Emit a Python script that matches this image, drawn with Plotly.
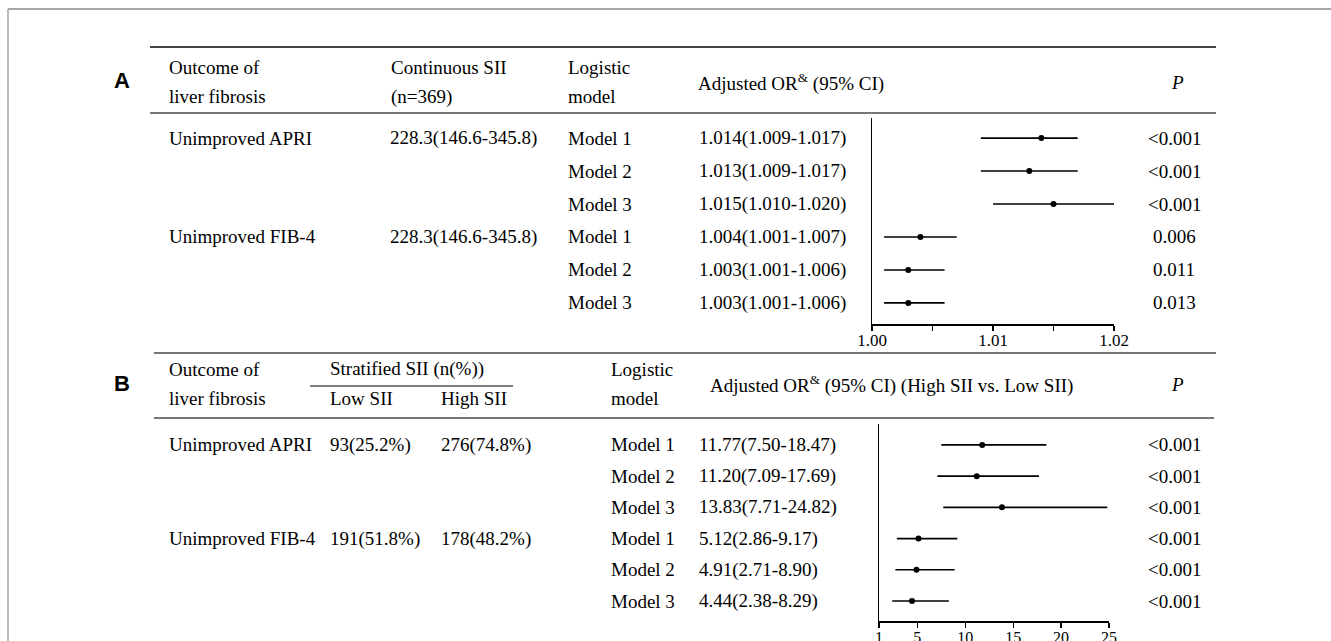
import plotly.graph_objects as go

W, H = 1331, 641

# ---------------- data ----------------
outcomes = ["Unimproved APRI", "Unimproved FIB-4"]
models = ["Model 1", "Model 2", "Model 3"]

a_continuous = ["228.3(146.6-345.8)", "228.3(146.6-345.8)"]
a_or = [1.014, 1.013, 1.015, 1.004, 1.003, 1.003]
a_lo = [1.009, 1.009, 1.010, 1.001, 1.001, 1.001]
a_hi = [1.017, 1.017, 1.020, 1.007, 1.006, 1.006]
a_p = ["<0.001", "<0.001", "<0.001", "0.006", "0.011", "0.013"]
a_ticks = [1.00, 1.01, 1.02]
a_ticktext = ["1.00", "1.01", "1.02"]
a_minor = [1.005, 1.015]

b_low = ["93(25.2%)", "191(51.8%)"]
b_high = ["276(74.8%)", "178(48.2%)"]
b_or = [11.77, 11.20, 13.83, 5.12, 4.91, 4.44]
b_lo = [7.50, 7.09, 7.71, 2.86, 2.71, 2.38]
b_hi = [18.47, 17.69, 24.82, 9.17, 8.90, 8.29]
b_p = ["<0.001"] * 6
b_ticks = [1, 5, 10, 15, 20, 25]

rows = list(range(6))

SERIF = "Liberation Serif"
FS = 19


def px(x):
    return x / W


def py(y):
    return 1 - y / H


fig = go.Figure()

fig.add_trace(go.Scatter(
    x=a_or, y=rows, mode="markers", xaxis="x2", yaxis="y2",
    marker=dict(color="black", size=6),
    error_x=dict(type="data", symmetric=False,
                 array=[h - o for h, o in zip(a_hi, a_or)],
                 arrayminus=[o - l for o, l in zip(a_or, a_lo)],
                 width=0, thickness=1.6, color="black"),
    showlegend=False, hoverinfo="skip"))

fig.add_trace(go.Scatter(
    x=b_or, y=rows, mode="markers", xaxis="x3", yaxis="y3",
    marker=dict(color="black", size=6),
    error_x=dict(type="data", symmetric=False,
                 array=[h - o for h, o in zip(b_hi, b_or)],
                 arrayminus=[o - l for o, l in zip(b_or, b_lo)],
                 width=0, thickness=1.6, color="black"),
    showlegend=False, hoverinfo="skip"))

ax_common = dict(showgrid=False, zeroline=False, showline=True, linecolor="black",
                 linewidth=1.5, fixedrange=True, automargin=False)

anns = []


def txt(x, y, s, xanchor="left", size=FS, yref="paper", family=SERIF, color="black"):
    anns.append(dict(x=px(x), y=(py(y) if yref == "paper" else y), xref="paper", yref=yref,
                     text=s, showarrow=False, xanchor=xanchor, yanchor="middle",
                     font=dict(family=family, size=size, color=color)))


# ---------- Panel A ----------
txt(112, 80, "<b>A</b>", family="Liberation Sans", size=22)
txt(167, 68, "Outcome of")
txt(167, 97, "liver fibrosis")
txt(389, 68, "Continuous SII")
txt(389, 97, "(n=369)")
txt(566, 68, "Logistic")
txt(566, 97, "model")
txt(696, 82, "Adjusted OR<sup>&amp;</sup> (95% CI)")
txt(1177, 82, "<i>P</i>", xanchor="center")

for i in rows:
    g = i // 3
    if i % 3 == 0:
        txt(167, i, outcomes[g], yref="y2")
        txt(388, i, a_continuous[g], yref="y2")
    txt(566, i, models[i % 3], yref="y2")
    txt(697, i, f"{a_or[i]:.3f}({a_lo[i]:.3f}-{a_hi[i]:.3f})", yref="y2")
    txt(1174, i, a_p[i], xanchor="center", yref="y2")

# ---------- Panel B ----------
txt(112, 383, "<b>B</b>", family="Liberation Sans", size=22)
txt(167, 369, "Outcome of")
txt(167, 398, "liver fibrosis")
txt(328, 369, "Stratified SII (n(%))")
txt(328, 398, "Low SII")
txt(439, 398, "High SII")
txt(609, 369, "Logistic")
txt(609, 398, "model")
txt(708, 384, "Adjusted OR<sup>&amp;</sup> (95% CI) (High SII vs. Low SII)")
txt(1177, 384, "<i>P</i>", xanchor="center")

for i in rows:
    g = i // 3
    if i % 3 == 0:
        txt(167, i, outcomes[g], yref="y3")
        txt(328, i, b_low[g], yref="y3")
        txt(439, i, b_high[g], yref="y3")
    txt(609, i, models[i % 3], yref="y3")
    txt(697, i, f"{b_or[i]:.2f}({b_lo[i]:.2f}-{b_hi[i]:.2f})", yref="y3")
    txt(1174, i, b_p[i], xanchor="center", yref="y3")


def hline(x0, x1, y, color="#777", w=2):
    return dict(type="line", xref="paper", yref="paper", x0=px(x0), x1=px(x1),
                y0=py(y), y1=py(y), line=dict(color=color, width=w))


shapes = [
    dict(type="line", xref="paper", yref="paper", x0=px(8), x1=1, y0=py(9), y1=py(9),
         line=dict(color="#888", width=1.5)),
    dict(type="line", xref="paper", yref="paper", x0=px(8), x1=px(8), y0=py(9), y1=0,
         line=dict(color="#bbb", width=2)),
    hline(150, 1216, 47, "#444"),
    hline(150, 1216, 113),
    hline(154, 1216, 353),
    hline(310, 513, 386, "#555", 1.5),
    hline(154, 1214, 418),
]

tick_common = dict(ticks="outside", ticklen=5, tickcolor="black", tickwidth=1.2)

fig.update_layout(
    template="none",
    width=W, height=H, margin=dict(l=0, r=0, t=0, b=0, pad=0, autoexpand=False),
    paper_bgcolor="white", plot_bgcolor="rgba(0,0,0,0)",
    xaxis=dict(visible=False, automargin=False), yaxis=dict(visible=False, automargin=False),
    xaxis2=dict(ax_common, **tick_common, domain=[px(872), px(1114)], range=[1.0, 1.02],
                anchor="y2", tickmode="array", tickvals=a_ticks, ticktext=a_ticktext,
                ticklabelstandoff=-5,
                minor=dict(tickmode="array", tickvals=a_minor, ticks="outside", ticklen=5,
                           tickcolor="black", tickwidth=1.2, showgrid=False),
                tickfont=dict(family=SERIF, size=17, color="black")),
    yaxis2=dict(ax_common, domain=[py(324), py(118)], range=[5.64, -0.61], anchor="x2",
                showticklabels=False, ticks=""),
    xaxis3=dict(ax_common, **tick_common, domain=[px(879), px(1109)], range=[1, 25],
                anchor="y3", tickmode="array", tickvals=b_ticks, ticklabelstandoff=-4,
                tickfont=dict(family=SERIF, size=16, color="black")),
    yaxis3=dict(ax_common, domain=[py(621), py(424)], range=[5.64, -0.67], anchor="x3",
                showticklabels=False, ticks=""),
    annotations=anns, shapes=shapes,
)

fig.write_html(
    "out.html",
    config={"displayModeBar": False, "staticPlot": True},
    post_script=(
        "document.documentElement.style.overflow='hidden';"
        "document.body.style.margin='0';"
        "document.body.style.overflow='hidden';"
    ),
)
